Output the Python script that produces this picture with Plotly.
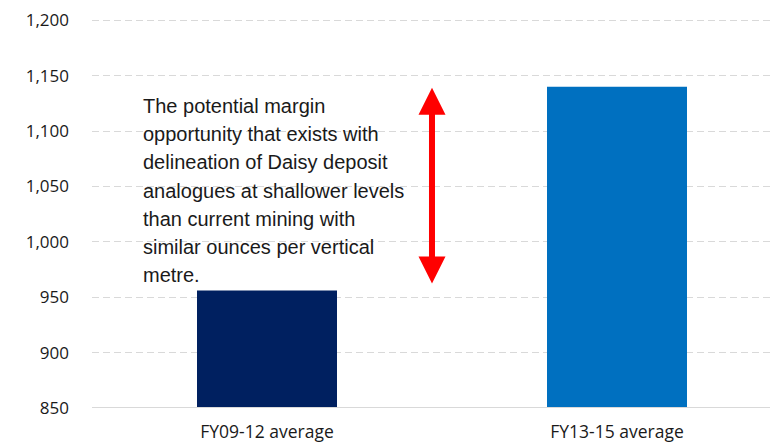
import plotly.graph_objects as go

categories = ["FY09-12 average", "FY13-15 average"]
values = [956, 1140]
bar_colors = ["#002060", "#0070C0"]
tick_vals = [850, 900, 950, 1000, 1050, 1100, 1150, 1200]
tick_text = ["850", "900", "950", "1,000", "1,050", "1,100", "1,150", "1,200"]
note_lines = [
    "The potential margin",
    "opportunity that exists with",
    "delineation of Daisy deposit",
    "analogues at shallower levels",
    "than current mining with",
    "similar ounces per vertical",
    "metre.",
]
arrow_span = [961, 1139]

fig = go.Figure()
fig.add_trace(go.Bar(x=[0, 1], y=values, marker_color=bar_colors, width=0.4,
                     marker_line_width=0))

# page body has an 8px margin, so the figure is 8px smaller and margins shifted
fig.update_layout(
    width=770, height=435,
    margin=dict(l=84, r=0, t=10, b=33),
    plot_bgcolor="white", paper_bgcolor="white",
    showlegend=False,
    font=dict(family="Liberation Sans", color="#000000"),
)
fig.update_xaxes(range=[-0.5, 1.46], tickvals=[0, 1], ticktext=categories,
                 showgrid=False, showline=False, zeroline=False,
                 tickfont=dict(size=17.5, family="Open Sans", color="#1a1a1a"), ticks="",
                 ticklabelstandoff=11)
fig.update_yaxes(range=[850, 1202], tickvals=tick_vals, ticktext=tick_text,
                 showgrid=True, gridcolor="#d9d9d9", griddash="7px,4px", gridwidth=1,
                 zeroline=False, showline=False, ticks="",
                 tickfont=dict(size=17, family="Open Sans", color="#1a1a1a"),
                 ticklabelstandoff=22, ticklabeloverflow="allow")
# solid baseline
fig.add_shape(type="line", xref="paper", yref="y", x0=0, x1=1, y0=850, y1=850,
              line=dict(color="#d9d9d9", width=2))

# double arrow
fig.add_annotation(x=0.4714, y=arrow_span[1], ax=0.4714, ay=arrow_span[0],
                   xref="x", yref="y", axref="x", ayref="y", text="",
                   showarrow=True, arrowhead=2, arrowside="end+start",
                   arrowsize=0.9, arrowwidth=6, arrowcolor="#FF0000")

# note text lines
line_step = 25.5
top_val = 1122.6
for i, line in enumerate(note_lines):
    fig.add_annotation(x=-0.36, y=top_val - i * line_step, xref="x", yref="y",
                       text=line, showarrow=False, xanchor="left", yanchor="middle",
                       font=dict(size=20, family="Liberation Sans", color="#1a1a1a"))

fig.write_html("out.html")
